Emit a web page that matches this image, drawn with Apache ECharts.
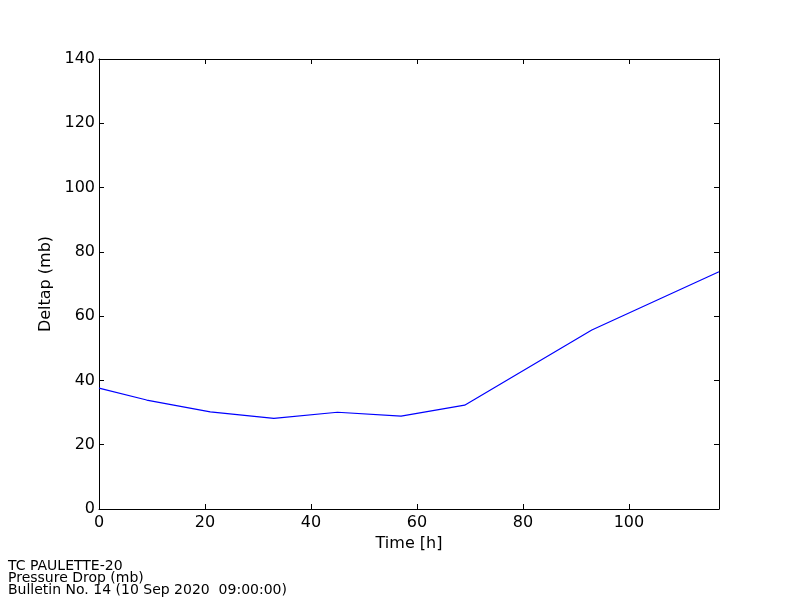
<!DOCTYPE html>
<html>
<head>
<meta charset="utf-8">
<script src="https://cdn.jsdelivr.net/npm/echarts@6/dist/echarts.min.js"></script>
<style>html,body{margin:0;padding:0;background:#fff}#c{width:800px;height:600px}</style>
</head>
<body>
<div id="c"></div>
<script>
const hours = [0, 9, 21, 33, 45, 57, 69, 93, 117];
const deltap = [37.6, 33.9, 30.2, 28.2, 30.1, 28.9, 32.3, 55.7, 73.8];
const footerLines = ['TC PAULETTE-20', 'Pressure Drop (mb)', 'Bulletin No. 14 (10 Sep 2020  09:00:00)'];

const font = 'DejaVu Sans';
const chart = echarts.init(document.getElementById('c'), null, {renderer: 'canvas'});
const axLine = {show: true, onZero: false, lineStyle: {color: '#000', width: 1}};
const tick = {show: true, inside: true, length: 5, lineStyle: {color: '#000', width: 1}};
chart.setOption({
  animation: false,
  backgroundColor: '#fff',
  grid: {left: 99, top: 59, right: 81, bottom: 91, containLabel: false},
  xAxis: [
    {type: 'value', min: 0, max: 117, interval: 20, position: 'bottom',
     name: 'Time [h]', nameLocation: 'middle', nameGap: 27,
     nameTextStyle: {fontFamily: font, fontSize: 16, color: '#000'},
     axisLine: axLine, axisTick: tick, splitLine: {show: false},
     axisLabel: {fontFamily: font, fontSize: 16, color: '#000', margin: 6, showMaxLabel: false}},
    {type: 'value', min: 0, max: 117, interval: 20, position: 'top',
     axisLine: axLine, axisTick: tick, splitLine: {show: false}, axisLabel: {show: false}}
  ],
  yAxis: [
    {type: 'value', min: 0, max: 140, interval: 20, position: 'left',
     name: 'Deltap (mb)', nameLocation: 'middle', nameGap: 41,
     nameTextStyle: {fontFamily: font, fontSize: 16, color: '#000'},
     axisLine: axLine, axisTick: tick, splitLine: {show: false},
     axisLabel: {fontFamily: font, fontSize: 16, color: '#000', margin: 4}},
    {type: 'value', min: 0, max: 140, interval: 20, position: 'right',
     axisLine: axLine, axisTick: tick, splitLine: {show: false}, axisLabel: {show: false}}
  ],
  series: [{
    type: 'line', xAxisIndex: 0, yAxisIndex: 0,
    data: hours.map((h, i) => [h, deltap[i]]),
    showSymbol: false, symbol: 'none',
    lineStyle: {color: '#0000ff', width: 1.2}
  }],
  graphic: footerLines.map((t, i) => ({
    type: 'text', left: 8, top: 559 + i * 12,
    style: {text: t, fontFamily: font, fontSize: 14, fill: '#000'}
  }))
});
</script>
</body>
</html>
